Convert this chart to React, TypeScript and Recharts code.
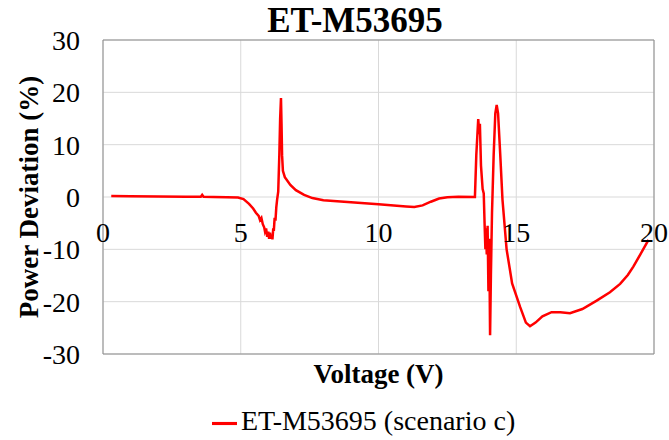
import {
  LineChart,
  Line,
  XAxis,
  YAxis,
  CartesianGrid,
  Legend,
  ReferenceArea,
  Label,
} from "recharts"

// Sweep voltage (V) and power deviation (%) for ET-M53695, scenario c
const voltage = [
  0.3, 1.0, 2.0, 3.0, 3.55, 3.6, 3.65, 4.0, 4.5, 4.9,
  5.1, 5.3, 5.45, 5.55, 5.65, 5.7, 5.75, 5.8, 5.85, 5.88,
  5.92, 5.96, 6.0, 6.03, 6.06, 6.09, 6.12, 6.15, 6.18, 6.2,
  6.23, 6.26, 6.29, 6.32, 6.36, 6.4, 6.43, 6.46, 6.48, 6.5,
  6.53, 6.6, 6.8, 7.0, 7.3, 7.6, 8.0, 9.0, 10.0, 11.0,
  11.3, 11.6, 11.9, 12.2, 12.5, 12.9, 13.5, 13.55, 13.62, 13.66,
  13.68, 13.72, 13.78, 13.82, 13.85, 13.88, 13.9, 13.93, 13.96, 13.99,
  14.02, 14.05, 14.08, 14.12, 14.18, 14.24, 14.29, 14.34, 14.42, 14.5,
  14.65, 14.85, 15.14, 15.35, 15.5, 15.7, 15.95, 16.28, 16.6, 16.95,
  17.4, 17.92, 18.4, 18.77, 19.05, 19.25, 19.5, 19.8,
]
const deviation = [
  0.2, 0.15, 0.1, 0.05, 0.05, 0.4, 0.05, 0.0, -0.05, -0.1,
  -0.4, -1.3, -2.2, -3.0, -3.6, -4.4, -4.0, -5.2, -5.8, -6.6,
  -6.0, -7.6, -6.6, -8.0, -6.8, -8.0, -7.2, -8.1, -6.0, -6.5,
  -4.0, -4.5, -2.0, -0.5, 1.0, 8.0, 15.0, 18.9, 14.0, 8.0,
  5.0, 3.8, 2.3, 1.3, 0.4, -0.2, -0.6, -1.0, -1.4, -1.8,
  -1.9, -1.6, -0.9, -0.3, -0.05, 0.05, 0.0, 8.0, 14.9, 12.0,
  14.0, 6.0, 1.5, 0.7, -5.0, -10.0, -6.0, -11.0, -5.5, -18.0,
  -8.0, -26.4, -15.0, -3.0, 8.0, 16.0, 17.6, 16.0, 8.0, -0.5,
  -10.0, -16.5, -21.0, -24.0, -24.7, -24.0, -22.8, -22.0, -22.0, -22.2,
  -21.4, -19.8, -18.2, -16.6, -14.9, -13.3, -11.0, -8.2,
]

const xTicks = [0, 5, 10, 15, 20]
const yTicks = [-30, -20, -10, 0, 10, 20, 30]
const yMinorTicks = [
  -30, -28, -26, -24, -22, -20, -18, -16, -14, -12, -10, -8, -6, -4, -2,
  0, 2, 4, 6, 8, 10, 12, 14, 16, 18, 20, 22, 24, 26, 28, 30,
]

const seriesName = "ET-M53695 (scenario c)"
const title = "ET-M53695"

const data = voltage.map((v, i) => ({ v, dev: deviation[i] }))

const FONT = "Liberation Serif"
// x labels sit just under the 0% line (plot spans y 40..354)
const X_LABEL_Y = 232

const ZeroLineTick = (props: any) => {
  const { x, payload } = props
  return (
    <text
      x={x}
      y={X_LABEL_Y}
      textAnchor="middle"
      dominantBaseline="central"
      style={{ fontSize: 28, fontFamily: FONT, fill: "#000" }}
    >
      {payload.value}
    </text>
  )
}

export default function App() {
  return (
    <div
      style={{
        position: "absolute",
        left: 0,
        top: 0,
        width: 669,
        height: 440,
        background: "#fff",
        fontFamily: FONT,
      }}
    >
      <div
        style={{
          position: "absolute",
          left: 205,
          top: 1,
          width: 300,
          textAlign: "center",
          fontSize: 35,
          fontWeight: "bold",
          lineHeight: "40px",
          color: "#000",
          fontFamily: FONT,
          zIndex: 1,
        }}
      >
        {title}
      </div>
      <LineChart
        width={669}
        height={440}
        data={data}
        margin={{ top: 40, right: 15, left: 23, bottom: 3 }}
        style={{ fontFamily: FONT }}
      >
        <CartesianGrid stroke="#d9d9d9" strokeWidth={1} />
        <XAxis
          dataKey="v"
          type="number"
          domain={[0, 20]}
          ticks={xTicks}
          height={51}
          axisLine={false}
          tickLine={false}
          tick={<ZeroLineTick />}
        >
          <Label
            value="Voltage (V)"
            position="insideTop"
            offset={10}
            style={{ fontSize: 27, fontWeight: "bold", fill: "#000", fontFamily: FONT }}
          />
        </XAxis>
        <YAxis
          type="number"
          domain={[-30, 30]}
          ticks={yTicks}
          width={80}
          axisLine={false}
          tickLine={false}
          tickMargin={17}
          tick={{ fill: "#000", style: { fontSize: 28, fontFamily: FONT } }}
        >
          <Label
            value="Power Deviation (%)"
            angle={-90}
            position="insideLeft"
            offset={5}
            style={{ textAnchor: "middle", fontSize: 27, fontWeight: "bold", fill: "#000", fontFamily: FONT }}
          />
        </YAxis>
        {/* minor tick marks pointing into the plot */}
        <YAxis
          yAxisId="minor"
          type="number"
          domain={[-30, 30]}
          ticks={yMinorTicks}
          mirror
          width={0}
          axisLine={false}
          tickSize={6}
          tickLine={{ stroke: "#a6a6a6" }}
          tick={() => <g />}
        />
        <ReferenceArea
          x1={0}
          x2={20}
          y1={-30}
          y2={30}
          fill="none"
          stroke="#8c8c8c"
          strokeWidth={1}
        />
        <Line
          type="linear"
          dataKey="dev"
          name={seriesName}
          stroke="#ff0000"
          strokeWidth={2.5}
          dot={false}
          isAnimationActive={false}
        />
        <Legend
          verticalAlign="bottom"
          align="left"
          iconType="plainline"
          iconSize={25}
          wrapperStyle={{ left: 212, width: 330, fontSize: 28, lineHeight: "32px", fontFamily: FONT }}
          formatter={(value) => <span style={{ color: "#000", fontFamily: FONT }}>{value}</span>}
        />
      </LineChart>
    </div>
  )
}
